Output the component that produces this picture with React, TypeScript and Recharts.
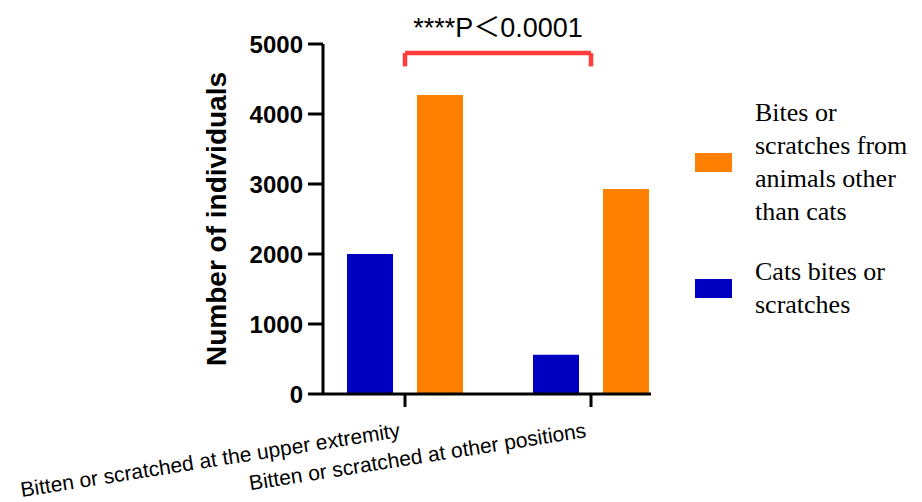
import { BarChart, Bar, XAxis, YAxis, Legend, ReferenceLine } from "recharts";

const categories = [
  "Bitten or scratched at the upper extremity",
  "Bitten or scratched at other positions",
];
const catBites = [2000, 560];
const otherBites = [4270, 2930];
const yTicks = [0, 1000, 2000, 3000, 4000, 5000];
const seriesNames = [
  "Cats bites or scratches",
  "Bites or scratches from animals other than cats",
];
const legendLines = [
  ["Cats bites or", "scratches"],
  ["Bites or", "scratches from", "animals other", "than cats"],
];
const pLabel = "****P＜0.0001";
const bracketTop = 4870;
const bracketFoot = 4680;

const data = categories.map((name, i) => ({
  name,
  cat: catBites[i],
  other: otherBites[i],
}));

const sans = "'Liberation Sans', Arial, 'Noto Sans CJK SC', sans-serif";
const serif = "'Liberation Serif', 'Times New Roman', serif";

function XTick({ x, y, payload }: any) {
  return (
    <g transform={`translate(${x - 4},${y + 28}) rotate(-9)`}>
      <text x={0} y={0} textAnchor="end" fontFamily={sans} fontSize={21} fill="#000">
        {payload.value}
      </text>
    </g>
  );
}

function LegendBox({ payload }: any) {
  // orange series first, as in the original
  const items = [...(payload ?? [])].sort(
    (a: any, b: any) => seriesNames.indexOf(b.value) - seriesNames.indexOf(a.value)
  );
  return (
    <div style={{ fontFamily: serif, fontSize: 26, lineHeight: "33px", color: "#000" }}>
      {items.map((item: any, i: number) => {
        const idx = seriesNames.indexOf(item.value);
        return (
          <div key={i} style={{ display: "flex", alignItems: "center", marginBottom: 27 }}>
            <div style={{ width: 37, height: 19, background: item.color, marginRight: 23, flex: "none" }} />
            <div>
              {legendLines[idx].map((l, j) => (
                <div key={j}>{l}</div>
              ))}
            </div>
          </div>
        );
      })}
    </div>
  );
}

export default function App() {
  return (
    <div style={{ position: "absolute", left: 0, top: 0, background: "#fff" }}>
      <BarChart
        width={922}
        height={502}
        data={data}
        margin={{ top: 44, right: 271, bottom: 0, left: 199 }}
        barSize={46}
        barGap={24}
      >
        <XAxis
          dataKey="name"
          padding={{ left: -11, right: -33 }}
          axisLine={{ stroke: "#000", strokeWidth: 3 }}
          tickLine={{ stroke: "#000", strokeWidth: 3 }}
          tickSize={13}
          tickMargin={2}
          tick={<XTick />}
          interval={0}
          height={108}
        />
        <YAxis
          width={124}
          domain={[0, 5000]}
          ticks={yTicks}
          axisLine={{ stroke: "#000", strokeWidth: 3 }}
          tickLine={{ stroke: "#000", strokeWidth: 3 }}
          tickSize={15}
          tickMargin={5}
          tick={{ fill: "#000", fontFamily: sans, fontWeight: "bold", fontSize: 24 }}
          label={{
            value: "Number of individuals",
            angle: -90,
            position: "insideLeft",
            offset: 17,
            style: { textAnchor: "middle", fontFamily: sans, fontWeight: "bold", fontSize: 28, fill: "#000" },
          }}
        />
        <Legend
          layout="vertical"
          align="center"
          verticalAlign="middle"
          wrapperStyle={{ left: 695, top: 96, width: 227 }}
          content={<LegendBox />}
        />
        <Bar dataKey="cat" name={seriesNames[0]} fill="#0000c0" isAnimationActive={false} />
        <Bar dataKey="other" name={seriesNames[1]} fill="#ff7f00" isAnimationActive={false} />
        <ReferenceLine
          segment={[
            { x: categories[0], y: bracketTop },
            { x: categories[1], y: bracketTop },
          ]}
          stroke="#ff3b3b"
          strokeWidth={4.5}
          label={{
            value: pLabel,
            position: "top",
            offset: 16,
            style: { fontFamily: sans, fontSize: 27, fill: "#000" },
          }}
        />
        <ReferenceLine
          segment={[
            { x: categories[0], y: bracketTop },
            { x: categories[0], y: bracketFoot },
          ]}
          stroke="#ff3b3b"
          strokeWidth={4.5}
        />
        <ReferenceLine
          segment={[
            { x: categories[1], y: bracketTop },
            { x: categories[1], y: bracketFoot },
          ]}
          stroke="#ff3b3b"
          strokeWidth={4.5}
        />
      </BarChart>
    </div>
  );
}
